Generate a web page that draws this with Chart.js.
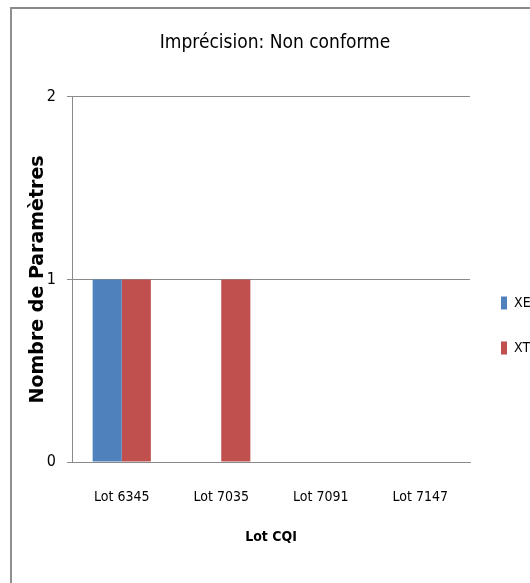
<!DOCTYPE html>
<html>
<head>
<meta charset="utf-8">
<script src="https://cdn.jsdelivr.net/npm/chart.js@4/dist/chart.umd.min.js"></script>
<style>
  html, body { margin: 0; padding: 0; background: #fff; }
  #wrap { position: relative; width: 530px; height: 583px; overflow: hidden; }
  #frame {
    position: absolute; left: 10px; top: 7px; right: -4px; bottom: -4px;
    border-top: 2px solid #8a8a8a; border-left: 2px solid #8f8f8f;
  }
  #c { position: absolute; left: 0; top: 0; }
</style>
</head>
<body>
<div id="wrap">
  <div id="frame"></div>
  <canvas id="c" width="530" height="583"></canvas>
</div>
<script>
// Lots of internal quality control and count of non-conforming parameters
const categories = ['Lot 6345', 'Lot 7035', 'Lot 7091', 'Lot 7147'];
const seriesNames = ['XE', 'XT'];
const xeValues = [1, 0, 0, 0];
const xtValues = [1, 1, 0, 0];
const yTicks = [0, 1, 2];

const narrow = "'DejaVu Sans Condensed', 'DejaVu Sans', sans-serif";
const gridGrey = '#8a8a8a';

new Chart(document.getElementById('c'), {
  type: 'bar',
  data: {
    labels: categories,
    datasets: [
      { label: seriesNames[0], data: xeValues, backgroundColor: '#4f81bd' },
      { label: seriesNames[1], data: xtValues, backgroundColor: '#c0504d' }
    ]
  },
  options: {
    responsive: false,
    animation: false,
    devicePixelRatio: 1,
    layout: { padding: { top: 0, left: 20, right: 0, bottom: 30 } },
    datasets: { bar: { barPercentage: 1, categoryPercentage: 0.585 } },
    plugins: {
      tooltip: { enabled: false },
      title: {
        display: true,
        text: 'Imprécision: Non conforme',
        color: '#000',
        font: { family: narrow, size: 19, weight: 'normal' },
        padding: { top: 32, bottom: 42 }
      },
      legend: {
        position: 'right',
        align: 'center',
        maxWidth: 60,
        title: { display: true, text: '', font: { size: 10 }, padding: { top: 86, bottom: 0 } },
        labels: {
          boxWidth: 6,
          boxHeight: 13,
          padding: 31,
          color: '#000',
          font: { family: narrow, size: 14 }
        }
      }
    },
    scales: {
      x: {
        afterFit: (axis) => { axis.height = 91; },
        grid: { display: false, drawTicks: false },
        border: { display: true, color: gridGrey },
        ticks: { color: '#000', padding: 26.6, font: { family: narrow, size: 14 } },
        title: {
          display: true,
          text: 'Lot CQI',
          color: '#000',
          font: { family: narrow, size: 14, weight: 'bold' },
          padding: { top: 0, bottom: 7.6 }
        }
      },
      y: {
        min: 0,
        max: 2,
        afterBuildTicks: (axis) => { axis.ticks = yTicks.map(v => ({ value: v })); },
        afterFit: (axis) => { axis.width = 52; },
        grid: { color: gridGrey, tickLength: 5, tickColor: gridGrey },
        border: { display: true, color: gridGrey },
        ticks: { color: '#000', padding: 11, font: { family: narrow, size: 16 } },
        title: {
          display: true,
          text: 'Nombre de Paramètres',
          color: '#000',
          font: { family: "'DejaVu Sans', sans-serif", size: 19, weight: 'bold' },
          padding: { top: 6.6, bottom: 0 }
        }
      }
    }
  }
});
</script>
</body>
</html>
